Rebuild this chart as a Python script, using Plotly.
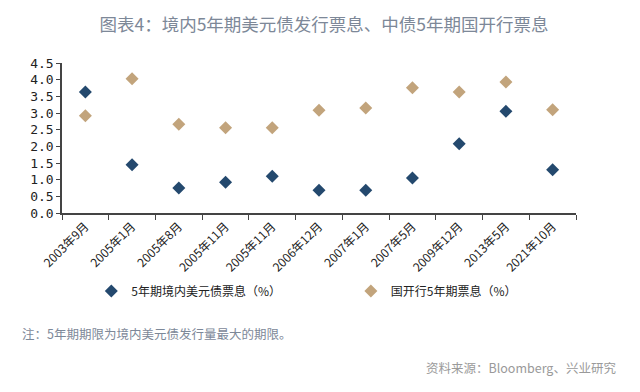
import plotly.graph_objects as go

categories = ["2003年9月", "2005年1月", "2005年8月", "2005年11月", "2005年11月", "2006年12月",
              "2007年1月", "2007年5月", "2009年12月", "2013年5月", "2021年10月"]
usd_coupon = [3.63, 1.45, 0.75, 0.92, 1.10, 0.68, 0.68, 1.05, 2.08, 3.05, 1.30]
cdb_coupon = [2.92, 4.03, 2.66, 2.56, 2.56, 3.08, 3.15, 3.76, 3.63, 3.93, 3.10]
y_ticks = [0, 0.5, 1.0, 1.5, 2.0, 2.5, 3.0, 3.5, 4.0, 4.5]
y_ticktext = ["0.0", "0.5", "1.0", "1.5", "2.0", "2.5", "3.0", "3.5", "4.0", "4.5"]

xpos = list(range(len(categories)))
bounds = [i - 0.5 for i in range(len(categories) + 1)]

font_cjk = "Noto Sans CJK SC, Noto Sans, sans-serif"

fig = go.Figure()
fig.add_trace(go.Scatter(x=xpos, y=usd_coupon, mode="markers", name="5年期境内美元债票息（%）",
                         legend="legend",
                         marker=dict(symbol="diamond", size=10, color="#24496e")))
fig.add_trace(go.Scatter(x=xpos, y=cdb_coupon, mode="markers", name="国开行5年期票息（%）",
                         legend="legend2",
                         marker=dict(symbol="diamond", size=10, color="#c2a47c")))

leg_common = dict(orientation="h", yanchor="middle", xanchor="left", itemwidth=30,
                  font=dict(size=12, color="#222222"), bgcolor="rgba(0,0,0,0)")

fig.update_layout(
    width=632, height=384,
    margin=dict(l=54, r=64, t=55, b=179, autoexpand=False),
    paper_bgcolor="white", plot_bgcolor="white",
    font=dict(family=font_cjk, color="#222222", size=12),
    showlegend=True,
    legend=dict(x=0.057, y=-0.52, **leg_common),
    legend2=dict(x=0.562, y=-0.52, **leg_common),
    title=dict(text="图表4：境内5年期美元债发行票息、中债5年期国开行票息",
               x=0.5, xanchor="center", y=0.956, yanchor="middle",
               font=dict(size=17.5, color="#7d8898", family=font_cjk)),
)

fig.update_xaxes(
    range=[-0.5, len(categories) - 0.5],
    tickmode="array", tickvals=xpos, ticktext=categories, tickangle=-45,
    ticks="", showgrid=False, zeroline=False,
    showline=True, linecolor="#444444", linewidth=1.5,
    tickfont=dict(size=12, color="#222222"),
    minor=dict(tickmode="array", tickvals=bounds, ticks="outside", ticklen=5,
               tickcolor="#444444", tickwidth=1.2, showgrid=False),
)
fig.update_yaxes(
    range=[0, 4.5], tickmode="array", tickvals=y_ticks, ticktext=y_ticktext,
    ticks="outside", ticklen=4, tickcolor="#444444",
    showgrid=False, zeroline=False,
    showline=True, linecolor="#444444", linewidth=1.5,
    tickfont=dict(size=13, color="#222222", family="DejaVu Sans Mono, monospace"),
)

fig.add_annotation(text="注：5年期期限为境内美元债发行量最大的期限。", xref="paper", yref="paper",
                   x=-0.082, y=-0.8, xanchor="left", yanchor="middle", showarrow=False,
                   font=dict(size=12.5, color="#7d8898"))
fig.add_annotation(text="资料来源：Bloomberg、兴业研究", xref="paper", yref="paper",
                   x=1.082, y=-1.03, xanchor="right", yanchor="middle", showarrow=False,
                   font=dict(size=12.5, color="#9a9a9a"))

fig.write_html("out.html")
